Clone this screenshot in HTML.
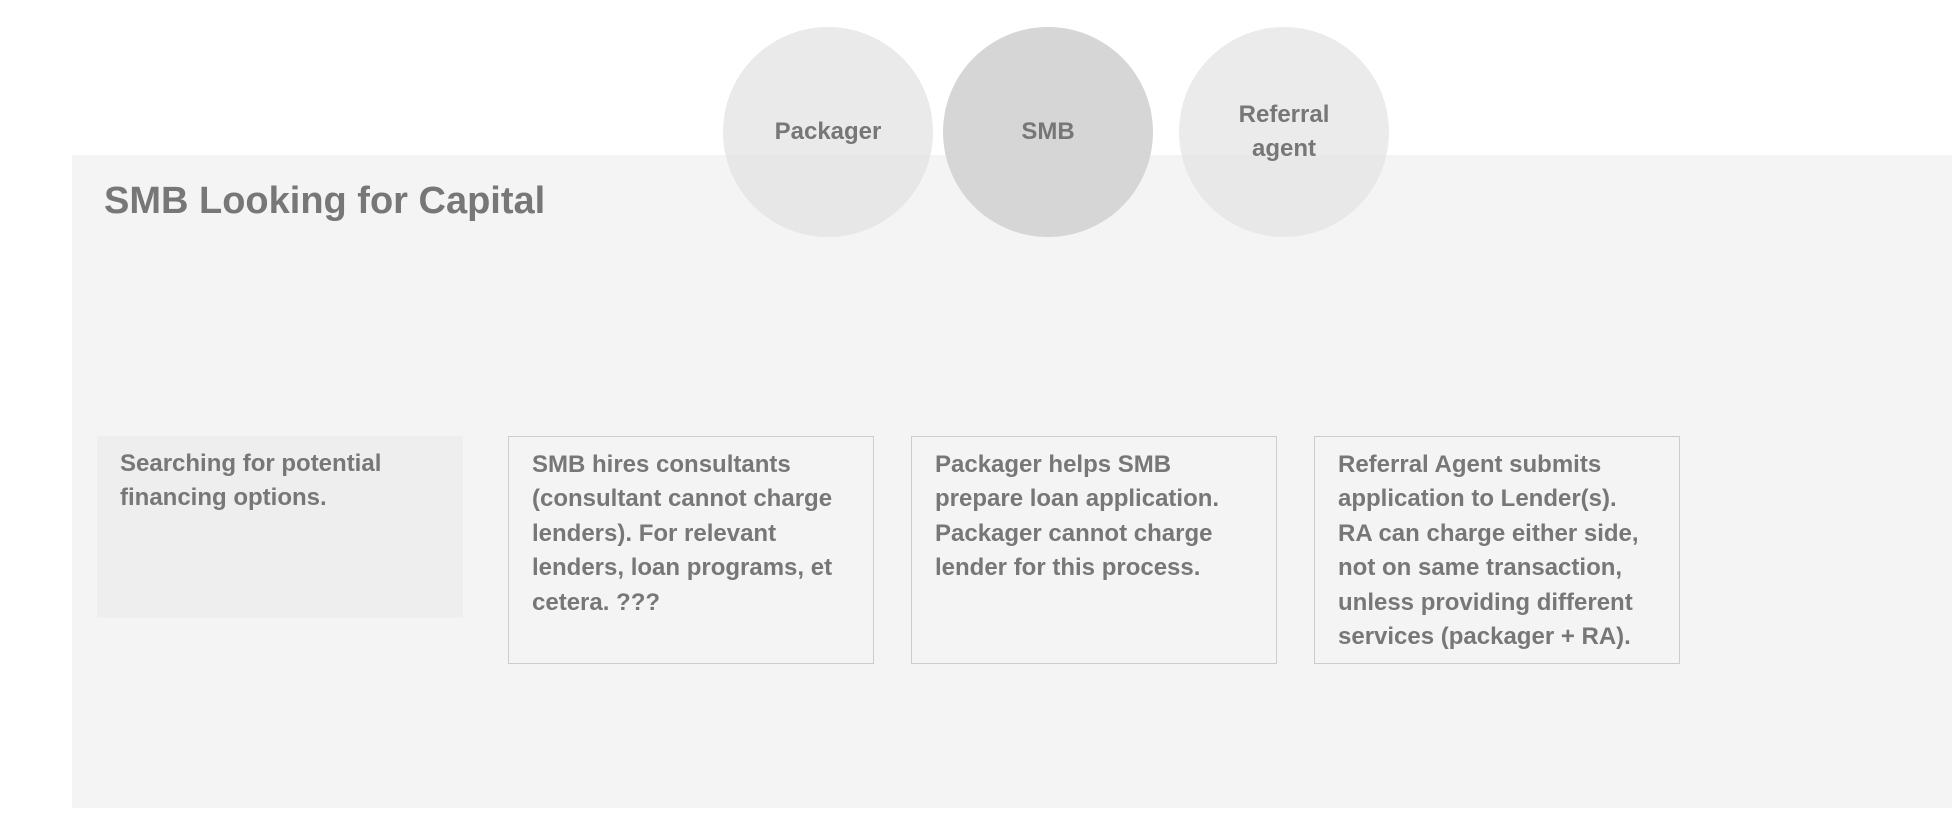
<!DOCTYPE html>
<html><head><meta charset="utf-8"><style>
body{margin:0;width:1960px;height:822px;background:#fff;position:relative;overflow:hidden;font-family:"Liberation Sans",sans-serif;color:#777}
.panel{position:absolute;left:72px;top:155px;width:1880px;height:653px;background:#f4f4f4}
.title{position:absolute;left:104px;top:178px;font-size:38px;line-height:46px;color:#777;font-weight:bold}
.c{position:absolute;width:210px;height:210px;border-radius:50%;display:flex;align-items:center;justify-content:center;text-align:center;font-size:24px;line-height:34px;color:#777;font-weight:bold}
.b{position:absolute;top:436px;box-sizing:border-box;padding:11px 0 0 23px;font-size:24px;line-height:34.4px;color:#777;font-weight:bold;white-space:nowrap}
.bd{border:1px solid #ccc;background:#f4f4f4;height:228px;width:366px}
</style></head><body>
<div class="panel"></div>
<div class="title">SMB Looking for Capital</div>
<div class="c" style="left:723px;top:27px;background:rgba(225,225,225,0.7)">Packager</div>
<div class="c" style="left:943px;top:27px;background:#d6d6d6">SMB</div>
<div class="c" style="left:1179px;top:27px;background:rgba(228,228,228,0.75)">Referral<br>agent</div>
<div class="b" style="left:97px;width:366px;height:182px;background:#eeeeee">Searching for potential<br>financing options.</div>
<div class="b bd" style="left:508px">SMB hires consultants<br>(consultant cannot charge<br>lenders). For relevant<br>lenders, loan programs, et<br>cetera. ???</div>
<div class="b bd" style="left:911px">Packager helps SMB<br>prepare loan application.<br>Packager cannot charge<br>lender for this process.</div>
<div class="b bd" style="left:1314px">Referral Agent submits<br>application to Lender(s).<br>RA can charge either side,<br>not on same transaction,<br>unless providing different<br>services (packager + RA).</div>
</body></html>
